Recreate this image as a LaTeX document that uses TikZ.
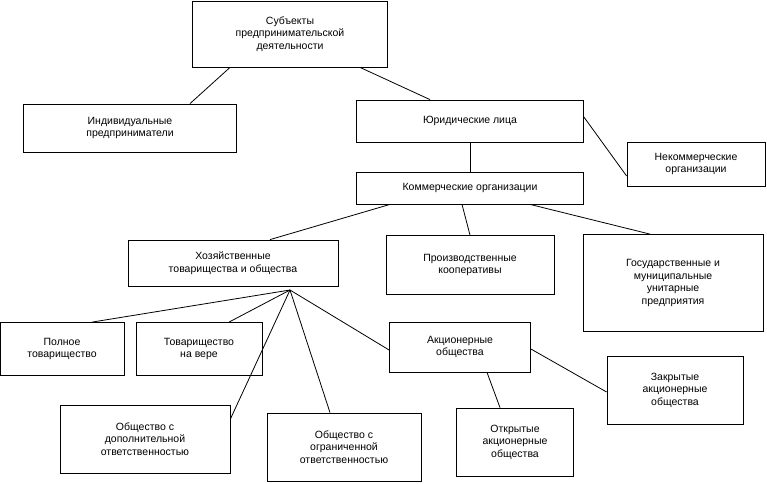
\documentclass[tikz,border=0pt]{standalone}
\usepackage{fontspec}
\setmainfont{Liberation Sans}
\begin{document}
\begin{tikzpicture}[x=1pt,y=-1pt,
  box/.style={draw,thick,align=center,inner sep=2pt,font=\fontsize{10.5}{12.5}\selectfont},
  link/.style={thick}]
\useasboundingbox (0,0) rectangle (767,483);

\node[box,minimum width=195,minimum height=66] (subj) at (290,34) {Субъекты\\предпринимательской\\деятельности};
\node[box,minimum width=213,minimum height=48] (indiv) at (130,128) {Индивидуальные\\предприниматели};
\node[box,minimum width=227,minimum height=42] (jur) at (470,121) {Юридические лица};
\node[box,minimum width=138,minimum height=44] (nonc) at (696,164) {Некоммерческие\\организации};
\node[box,minimum width=227,minimum height=32] (comm) at (470,188) {Коммерческие организации};
\node[box,minimum width=210,minimum height=46] (econ) at (233,263) {Хозяйственные\\товарищества и общества};
\node[box,minimum width=168,minimum height=59] (coop) at (470,265) {Производственные\\кооперативы};
\node[box,minimum width=180,minimum height=97] (gov) at (673,283) {Государственные и\\муниципальные\\унитарные\\предприятия};
\node[box,minimum width=124,minimum height=53] (full) at (62,349) {Полное\\товарищество};
\node[box,minimum width=126,minimum height=53] (trust) at (199,349) {Товарищество\\на вере};
\node[box,minimum width=141,minimum height=50] (joint) at (460,347) {Акционерные\\общества};
\node[box,minimum width=136,minimum height=68] (closed) at (675,390) {Закрытые\\акционерные\\общества};
\node[box,minimum width=170,minimum height=68] (addl) at (145,439) {Общество с\\дополнительной\\ответственностью};
\node[box,minimum width=154,minimum height=68] (ltd) at (344,447) {Общество с\\ограниченной\\ответственностью};
\node[box,minimum width=117,minimum height=68] (open) at (515,442) {Открытые\\акционерные\\общества};

\coordinate (fan) at (290,290);

\draw[link] ([xshift=-60]subj.south) -- ([xshift=60]indiv.north);
\draw[link] ([xshift=70]subj.south) -- ([xshift=-40]jur.north);
\draw[link] ([yshift=4]jur.east) -- ([yshift=-12]nonc.west);
\draw[link] (jur.south) -- (comm.north);
\draw[link] ([xshift=-80]comm.south) -- ([xshift=37]econ.north);
\draw[link] ([xshift=-8]comm.south) -- (coop.north);
\draw[link] ([xshift=60]comm.south) -- ([xshift=-23]gov.north);
\draw[link] (fan) -- ([xshift=30]full.north);
\draw[link] (fan) -- ([xshift=30]trust.north);
\draw[link] (fan) -- ([yshift=20]addl.east);
\draw[link] (fan) -- ([xshift=-14]ltd.north);
\draw[link] (fan) -- ([yshift=-3]joint.west);
\draw[link] ([yshift=-2]joint.east) -- ([yshift=-2]closed.west);
\draw[link] ([xshift=27]joint.south) -- ([xshift=-15]open.north);
\end{tikzpicture}
\end{document}
